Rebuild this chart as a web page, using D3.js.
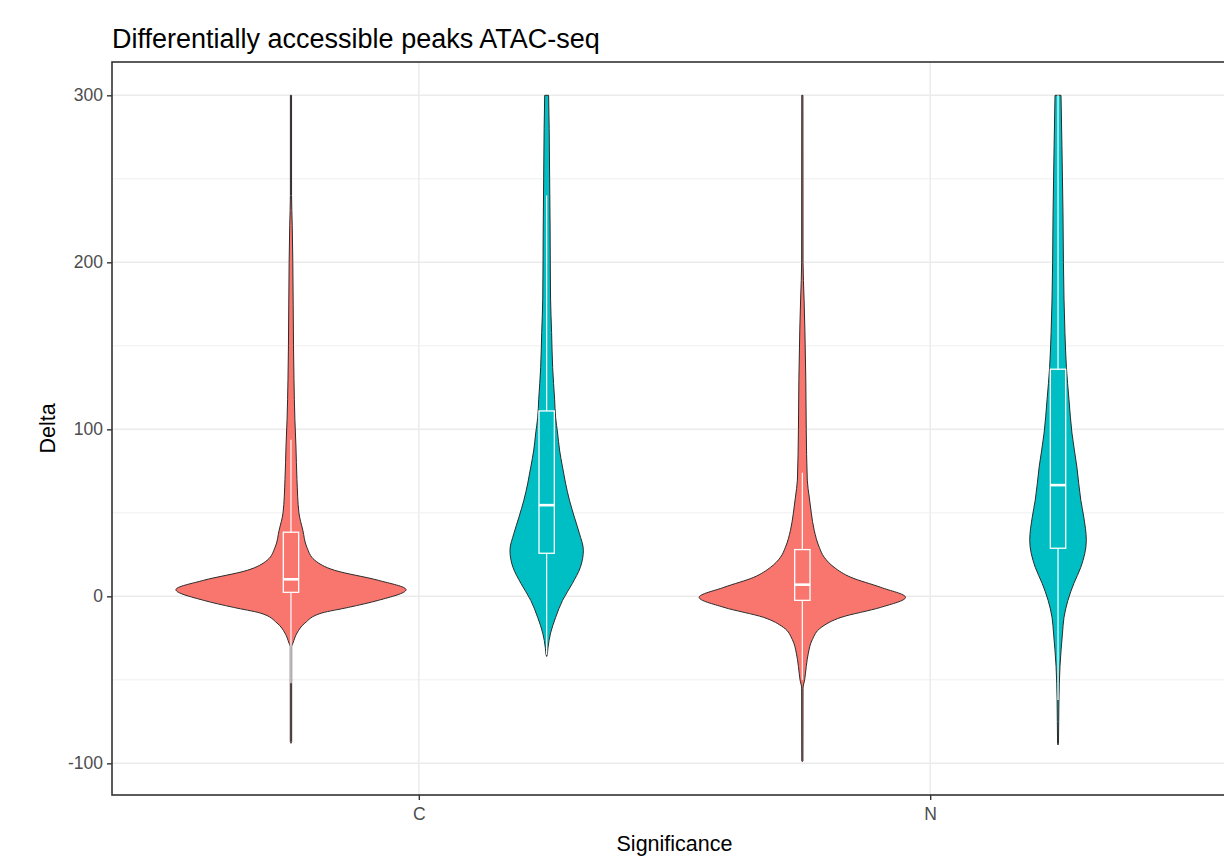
<!DOCTYPE html>
<html>
<head>
<meta charset="utf-8">
<script src="https://cdn.jsdelivr.net/npm/d3@7"></script>
<style>
  html, body { margin: 0; padding: 0; background: #ffffff; }
  svg { display: block; font-family: "Liberation Sans", Arial, sans-serif; }
</style>
</head>
<body>
<svg id="chart" width="1224" height="864"></svg>
<script>
// ---- data ----------------------------------------------------------------
const categories = ["C", "N"];
const fillGroups = ["A", "B"];
const fillColors = ["#F8766D", "#00BFC4"];

const yTicks = [-100, 0, 100, 200, 300];
const yMinorTicks = [-50, 50, 150, 250];
const deltaRange = [-99, 300];

// violin density profiles (density relative to the widest violin)
const deltaC_A   = [-88, -87, -30, -28, -22, -16, -10, -6.6, -2.4, 4, 9.6, 15.6, 21.6, 29.4, 39.6, 50, 70, 90, 106, 130, 150, 200, 222, 240, 300];
const densityC_A = [0, 0.006, 0.006, 0.017, 0.052, 0.121, 0.267, 0.5, 0.759, 1, 0.759, 0.379, 0.207, 0.138, 0.103, 0.069, 0.052, 0.043, 0.034, 0.026, 0.022, 0.016, 0.011, 0.005, 0.005];

const deltaC_B   = [-36, -35, -31, -22, -12.6, -2.4, 7.8, 17.4, 27.6, 37.8, 47.4, 57.6, 67.8, 77.4, 87.6, 97.8, 107, 118, 137, 158, 178, 220, 250, 280, 300];
const densityC_B = [0, 0.005, 0.011, 0.034, 0.078, 0.138, 0.224, 0.293, 0.319, 0.284, 0.241, 0.198, 0.164, 0.138, 0.112, 0.095, 0.078, 0.069, 0.052, 0.043, 0.034, 0.030, 0.026, 0.022, 0.017];

const deltaN_A   = [-99, -98.5, -55, -50, -42, -34, -26, -18.6, -12.6, -6.6, -0.6, 5.4, 11.4, 17.4, 23.4, 29.4, 39.6, 49.8, 59.4, 69.6, 100, 130, 160, 178, 200, 300];
const densityN_A = [0, 0.005, 0.006, 0.020, 0.034, 0.052, 0.086, 0.164, 0.336, 0.681, 0.897, 0.681, 0.422, 0.276, 0.190, 0.147, 0.103, 0.078, 0.060, 0.043, 0.034, 0.030, 0.022, 0.015, 0.006, 0.005];

const deltaN_B   = [-89, -88, -62, -42, -22, -12.6, -2.4, 7.8, 17.4, 33.6, 47.4, 57.6, 77.4, 97.8, 118, 137, 158, 178, 200, 230, 270, 300];
const densityN_B = [0, 0.004, 0.008, 0.017, 0.039, 0.052, 0.086, 0.138, 0.198, 0.246, 0.224, 0.198, 0.164, 0.121, 0.095, 0.073, 0.060, 0.052, 0.047, 0.043, 0.034, 0.026];

// boxplot statistics: [lower whisker, Q1, median, Q3, upper whisker]
const boxC_A = [-52, 2.4, 10.2, 38.4, 93.7];
const boxC_B = [-35, 25.8, 54.6, 111, 240];
const boxN_A = [-50, -2.4, 7, 28, 74];
const boxN_B = [-62, 28.8, 66.6, 136, 300];

// ---- assemble ------------------------------------------------------------
const toProfile = (d, w) => d.map((v, i) => ({ delta: v, density: w[i] }));
const violins = [
  { cat: "C", grp: "A", profile: toProfile(deltaC_A, densityC_A), box: boxC_A },
  { cat: "C", grp: "B", profile: toProfile(deltaC_B, densityC_B), box: boxC_B },
  { cat: "N", grp: "A", profile: toProfile(deltaN_A, densityN_A), box: boxN_A },
  { cat: "N", grp: "B", profile: toProfile(deltaN_B, densityN_B), box: boxN_B }
];

// ---- layout --------------------------------------------------------------
const svg = d3.select("#chart");
const panel = { left: 112, right: 1237, top: 62, bottom: 795 };

const x = d3.scalePoint().domain(categories).range([panel.left, panel.right]).padding(0.6);
const step = x.step();
const dodge = d3.scalePoint().domain(fillGroups).range([-0.25 * step, 0.25 * step]);
const color = d3.scaleOrdinal().domain(fillGroups).range(fillColors);

const span = deltaRange[1] - deltaRange[0];
const y = d3.scaleLinear()
  .domain([deltaRange[0] - 0.05 * span, deltaRange[1] + 0.05 * span])
  .range([panel.bottom, panel.top]);

const w = d3.scaleLinear().domain([0, 1]).range([0, 0.225 * step]);
const boxHalf = 0.015 * step;

// panel background + grid
svg.append("rect")
  .attr("x", panel.left).attr("y", panel.top)
  .attr("width", panel.right - panel.left).attr("height", panel.bottom - panel.top)
  .attr("fill", "#ffffff");

const grid = svg.append("g");
grid.selectAll("line.minor").data(yMinorTicks).join("line")
  .attr("class", "minor")
  .attr("x1", panel.left).attr("x2", panel.right)
  .attr("y1", d => y(d)).attr("y2", d => y(d))
  .attr("stroke", "#EBEBEB").attr("stroke-width", 0.8);
grid.selectAll("line.major").data(yTicks).join("line")
  .attr("class", "major")
  .attr("x1", panel.left).attr("x2", panel.right)
  .attr("y1", d => y(d)).attr("y2", d => y(d))
  .attr("stroke", "#EBEBEB").attr("stroke-width", 1.5);
grid.selectAll("line.vmajor").data(categories).join("line")
  .attr("class", "vmajor")
  .attr("x1", d => x(d)).attr("x2", d => x(d))
  .attr("y1", panel.top).attr("y2", panel.bottom)
  .attr("stroke", "#EBEBEB").attr("stroke-width", 1.5);

// violins
const g = svg.append("g");
violins.forEach(v => {
  const cx = x(v.cat) + dodge(v.grp);
  const area = d3.area()
    .curve(d3.curveMonotoneY)
    .y(d => y(d.delta))
    .x0(d => cx - w(d.density))
    .x1(d => cx + w(d.density));
  g.append("path")
    .datum(v.profile)
    .attr("d", area)
    .attr("fill", color(v.grp))
    .attr("stroke", "#2b2b2b")
    .attr("stroke-width", 1);
});

// boxplots
violins.forEach(v => {
  const cx = x(v.cat) + dodge(v.grp);
  const [lo, q1, med, q3, hi] = v.box;
  const b = g.append("g").attr("stroke", "#ffffff").attr("fill", "none");
  b.append("line").attr("x1", cx).attr("x2", cx).attr("y1", y(q3)).attr("y2", y(hi)).attr("stroke-width", 1.2);
  b.append("line").attr("x1", cx).attr("x2", cx).attr("y1", y(q1)).attr("y2", y(lo)).attr("stroke-width", 1.2);
  b.append("rect")
    .attr("x", cx - boxHalf).attr("width", 2 * boxHalf)
    .attr("y", y(q3)).attr("height", y(q1) - y(q3))
    .attr("stroke-width", 1.3);
  b.append("line").attr("x1", cx - boxHalf).attr("x2", cx + boxHalf)
    .attr("y1", y(med)).attr("y2", y(med)).attr("stroke-width", 2.6);
});

// panel border
svg.append("rect")
  .attr("x", panel.left).attr("y", panel.top)
  .attr("width", panel.right - panel.left).attr("height", panel.bottom - panel.top)
  .attr("fill", "none").attr("stroke", "#333333").attr("stroke-width", 1.6);

// axes
const yAxis = d3.axisLeft(y).tickValues(yTicks).tickSize(5).tickPadding(4).tickFormat(d => String(d));
const ya = svg.append("g").attr("transform", `translate(${panel.left},0)`).call(yAxis);
const xAxis = d3.axisBottom(x).tickSize(5).tickPadding(8);
const xa = svg.append("g").attr("transform", `translate(0,${panel.bottom})`).call(xAxis);
[ya, xa].forEach(a => {
  a.select(".domain").remove();
  a.selectAll(".tick line").attr("stroke", "#333333").attr("stroke-width", 1.4);
  a.selectAll(".tick text").attr("fill", "#4D4D4D")
    .style("font-size", "17.5px").style("font-family", "Liberation Sans, Arial, sans-serif");
});

// titles
svg.append("text")
  .attr("x", panel.left).attr("y", 48)
  .style("font-size", "27px").attr("fill", "#000")
  .text("Differentially accessible peaks ATAC-seq");

svg.append("text")
  .attr("x", (panel.left + panel.right) / 2).attr("y", 851)
  .attr("text-anchor", "middle")
  .style("font-size", "21.5px").attr("fill", "#000")
  .text("Significance");

svg.append("text")
  .attr("transform", `translate(55,${(panel.top + panel.bottom) / 2}) rotate(-90)`)
  .attr("text-anchor", "middle")
  .style("font-size", "21.5px").attr("fill", "#000")
  .text("Delta");
</script>
</body>
</html>
